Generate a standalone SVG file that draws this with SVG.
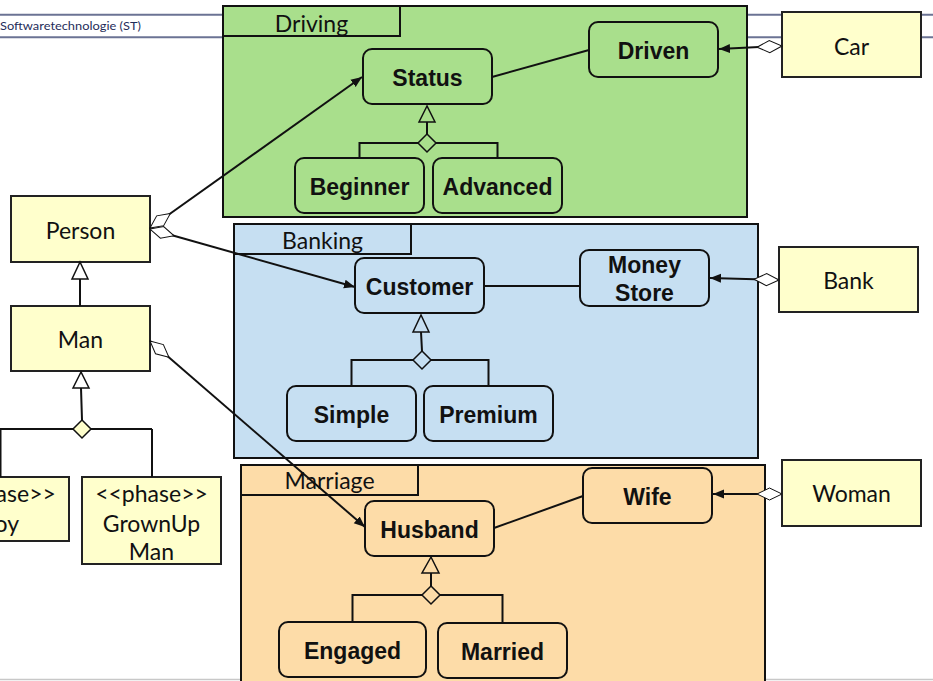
<svg xmlns="http://www.w3.org/2000/svg" width="933" height="681" viewBox="0 0 933 681">
<style>
.pkg{stroke:#111;stroke-width:2}
.drv{fill:#a9df8c}.bnk{fill:#c6dff2}.mar{fill:#fddca8}
.ext{fill:#ffffcc;stroke:#222;stroke-width:2}
.node{stroke:#111;stroke-width:2}
.lt{font-family:Lato,"Liberation Sans",sans-serif;font-size:23px;fill:#111;text-anchor:middle}
.bd{font-family:"Liberation Sans",Arial,sans-serif;font-size:23px;font-weight:bold;fill:#111;text-anchor:middle}
.ln{fill:none;stroke:#111;stroke-width:2}
.gen{stroke:#111;stroke-width:1.5}
</style>
<defs>
<marker id="agg" markerUnits="userSpaceOnUse" markerWidth="30" markerHeight="16" viewBox="-1 -8 28 16" refX="0" refY="0" orient="auto">
<path d="M0,0 L12.5,-6 L25,0 L12.5,6 Z" fill="#fff" stroke="#111" stroke-width="1"/>
</marker>
<marker id="arr" markerUnits="userSpaceOnUse" markerWidth="12" markerHeight="10" viewBox="0 -5 12 10" refX="11" refY="0" orient="auto">
<path d="M0,-4.5 L11,0 L0,4.5 Z" fill="#111"/>
</marker>
</defs>
<rect x="0" y="0" width="933" height="681" fill="#fff"/>
<g id="header">
<line x1="0" y1="14.7" x2="933" y2="14.7" stroke="#6b7394" stroke-width="2"/>
<line x1="0" y1="37.3" x2="933" y2="37.3" stroke="#6b7394" stroke-width="2"/>
<text x="0" y="30" font-family="Lato,'Liberation Sans',sans-serif" font-size="11.5" fill="#1f2d5a" textLength="141" lengthAdjust="spacingAndGlyphs">Softwaretechnologie (ST)</text>
<line x1="0" y1="679.5" x2="933" y2="679.5" stroke="#c8c8c8" stroke-width="1.5"/>
</g>
<g id="pkg-driving">
<rect class="pkg drv" x="223" y="6" width="524" height="211"/>
<rect class="pkg drv" x="223" y="6" width="177" height="30"/>
<text class="lt" x="311.5" y="32">Driving</text>
</g>
<g id="pkg-banking">
<rect class="pkg bnk" x="234" y="224" width="524" height="234"/>
<rect class="pkg bnk" x="234" y="224" width="177" height="30"/>
<text class="lt" x="322.5" y="249">Banking</text>
</g>
<g id="pkg-marriage">
<rect class="pkg mar" x="241" y="465" width="524" height="230"/>
<rect class="pkg mar" x="241" y="465" width="177" height="30"/>
<text class="lt" x="329.5" y="489">Marriage</text>
</g>
<g id="status"><rect class="node drv" x="363" y="49" width="129" height="55" rx="9"/><text class="bd" x="427.5" y="86">Status</text></g>
<g id="driven"><rect class="node drv" x="589" y="22" width="129" height="55" rx="9"/><text class="bd" x="653.5" y="59">Driven</text></g>
<g id="beginner"><rect class="node drv" x="295" y="158" width="129" height="55" rx="9"/><text class="bd" x="359.5" y="195">Beginner</text></g>
<g id="advanced"><rect class="node drv" x="433" y="158" width="129" height="55" rx="9"/><text class="bd" x="497.5" y="195">Advanced</text></g>
<g id="customer"><rect class="node bnk" x="355" y="258" width="129" height="55" rx="9"/><text class="bd" x="419.5" y="295">Customer</text></g>
<g id="moneystore"><rect class="node bnk" x="580" y="250" width="129" height="56" rx="9"/><text class="bd" x="644.5" y="273">Money</text><text class="bd" x="644.5" y="300.5">Store</text></g>
<g id="simple"><rect class="node bnk" x="287" y="386" width="129" height="55" rx="9"/><text class="bd" x="351.5" y="423">Simple</text></g>
<g id="premium"><rect class="node bnk" x="424" y="386" width="129" height="55" rx="9"/><text class="bd" x="488.5" y="423">Premium</text></g>
<g id="husband"><rect class="node mar" x="365" y="501" width="129" height="55" rx="9"/><text class="bd" x="429.5" y="538">Husband</text></g>
<g id="wife"><rect class="node mar" x="583" y="468" width="129" height="55" rx="9"/><text class="bd" x="647.5" y="505">Wife</text></g>
<g id="engaged"><rect class="node mar" x="279" y="622" width="147" height="55" rx="9"/><text class="bd" x="352.5" y="659">Engaged</text></g>
<g id="married"><rect class="node mar" x="438" y="623" width="129" height="55" rx="9"/><text class="bd" x="502.5" y="660">Married</text></g>
<g id="car"><rect class="ext" x="782" y="12" width="139" height="65"/><text class="lt" x="851.5" y="55">Car</text></g>
<g id="bank"><rect class="ext" x="779" y="247" width="139" height="65"/><text class="lt" x="848.5" y="289">Bank</text></g>
<g id="woman"><rect class="ext" x="782" y="460" width="139" height="66"/><text class="lt" x="851.5" y="502">Woman</text></g>
<g id="person"><rect class="ext" x="11" y="196" width="139" height="66"/><text class="lt" x="80.5" y="239">Person</text></g>
<g id="man"><rect class="ext" x="11" y="306" width="139" height="65"/><text class="lt" x="80.5" y="347.5">Man</text></g>
<g id="boy"><rect class="ext" x="-70" y="477" width="139" height="64"/><text class="lt" x="-0.5" y="501.5">&lt;&lt;phase&gt;&gt;</text><text class="lt" x="-0.5" y="532">Boy</text></g>
<g id="grownup"><rect class="ext" x="82" y="477" width="139" height="87"/><text class="lt" x="151.5" y="501.5">&lt;&lt;phase&gt;&gt;</text><text class="lt" x="151.5" y="532">GrownUp</text><text class="lt" x="151.5" y="560">Man</text></g>
<g id="connectors">
<path class="ln" d="M150,228 L362,77" marker-start="url(#agg)" marker-end="url(#arr)"/>
<path class="ln" d="M150,229 L355,287" marker-start="url(#agg)" marker-end="url(#arr)"/>
<path class="ln" d="M150,341 L365,527" marker-start="url(#agg)" marker-end="url(#arr)"/>
<path class="ln" d="M782,46 L719,49" marker-start="url(#agg)" marker-end="url(#arr)"/>
<path class="ln" d="M779,280 L710,278" marker-start="url(#agg)" marker-end="url(#arr)"/>
<path class="ln" d="M782,494 L713,494" marker-start="url(#agg)" marker-end="url(#arr)"/>
<path class="ln" d="M492,77 L589,50"/>
<path class="ln" d="M484,286 L580,286"/>
<path class="ln" d="M494,528 L583,496"/>
<path class="ln" d="M80,279 V306"/>
<polygon class="gen" fill="#fff" points="80,262 72,279 88,279"/>
<path class="ln" d="M81,388 L82,420 M-2,429 H152 M0.5,429 V477 M152,429 V477"/>
<polygon class="gen" fill="#fff" points="81,372 73,388 89,388"/>
<polygon class="gen" fill="#ffffcc" points="82,420 91,429 82,438 73,429"/>
<path class="ln" d="M427,122 V134 M359.5,143 H497.5 M359.5,142 V158 M497.5,142 V158"/>
<polygon class="gen drv" points="427,106 419,122 435,122"/>
<polygon class="gen drv" points="427,134 436,143 427,152 418,143"/>
<path class="ln" d="M421,332 L422,351 M351.5,360 H488.5 M351.5,359 V386 M488.5,359 V386"/>
<polygon class="gen bnk" points="421,315 413,332 429,332"/>
<polygon class="gen bnk" points="422,351 431,360 422,369 413,360"/>
<path class="ln" d="M431,573 V586 M352.5,595 H502.5 M352.5,594 V622 M502.5,594 V623"/>
<polygon class="gen mar" points="431,557 422,573 439,573"/>
<polygon class="gen mar" points="431,586 440,595 431,604 422,595"/>
</g>
</svg>
